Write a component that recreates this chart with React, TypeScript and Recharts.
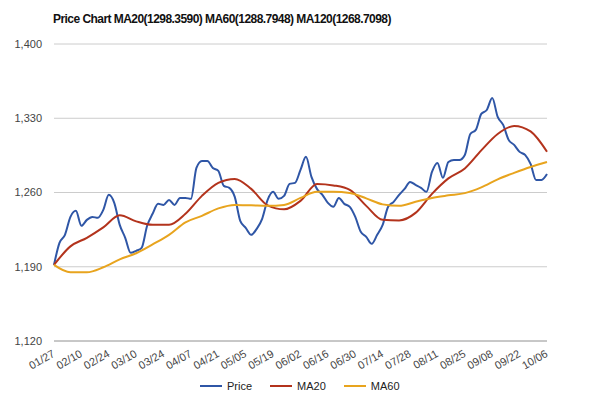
import { LineChart, Line, XAxis, YAxis, CartesianGrid } from "recharts";

const title = "Price Chart MA20(1298.3590) MA60(1288.7948) MA120(1268.7098)";

const dateLabels = [
  "01/27", "02/10", "02/24", "03/10", "03/24", "04/07", "04/21", "05/05", "05/19", "06/02",
  "06/16", "06/30", "07/14", "07/28", "08/11", "08/25", "09/08", "09/22", "10/06",
];

// closing price, one value every 2 trading days
const price = [
  1191.8, 1212.5, 1220.1, 1237.0, 1242.7, 1228.6, 1234.2, 1237.0, 1236.1, 1243.6,
  1257.8, 1250.2, 1229.5, 1217.3, 1203.1, 1205.0, 1207.8, 1228.6, 1239.9, 1249.3,
  1248.3, 1253.0, 1248.3, 1254.9, 1254.9, 1254.0, 1283.2, 1289.8, 1289.8, 1283.2,
  1280.4, 1266.2, 1264.4, 1255.9, 1233.3, 1226.7, 1220.1, 1225.7, 1235.2, 1253.0,
  1260.6, 1254.0, 1256.8, 1268.1, 1269.1, 1281.3, 1293.6, 1274.7, 1263.4, 1257.8,
  1250.2, 1246.5, 1254.9, 1249.3, 1246.5, 1237.0, 1222.9, 1218.2, 1211.6, 1220.1,
  1229.5, 1246.5, 1251.2, 1257.8, 1263.4, 1270.0, 1267.2, 1264.4, 1260.6, 1279.4,
  1287.9, 1273.8, 1288.8, 1290.7, 1290.7, 1295.4, 1315.2, 1319.0, 1334.1, 1337.8,
  1349.1, 1331.2, 1323.7, 1309.6, 1304.9, 1298.3, 1295.4, 1286.9, 1271.9, 1271.9,
  1277.5,
];

// moving averages, one value every 6 trading days
const ma20 = [
  1191.8, 1209.2, 1217.3, 1227.1, 1238.5, 1232.8, 1229.5, 1229.5, 1239.9, 1256.8,
  1269.1, 1272.8, 1263.4, 1247.9, 1244.1, 1252.1, 1268.1, 1266.7, 1262.5, 1247.4,
  1234.2, 1233.7, 1240.8, 1258.7, 1273.3, 1282.7, 1299.7, 1315.2, 1322.8, 1317.6,
  1298.4,
];

const ma60 = [
  1191.8, 1184.8, 1184.8, 1189.5, 1197.0, 1202.7, 1211.1, 1220.1, 1231.9, 1238.0,
  1245.0, 1248.3, 1247.9, 1247.4, 1248.3, 1254.9, 1260.6, 1260.6, 1259.6, 1254.5,
  1248.8, 1247.4, 1251.2, 1254.9, 1257.3, 1259.4, 1264.8, 1272.4, 1278.5, 1284.1,
  1288.8,
];

const yTicks = [1120, 1190, 1260, 1330, 1400];

const data = price.map((p, i) => ({
  i,
  price: p,
  ma20: i % 3 === 0 ? ma20[i / 3] : null,
  ma60: i % 3 === 0 ? ma60[i / 3] : null,
}));

const xTicks = dateLabels.map((_, k) => k * 5);

const colors = { price: "#2f56a6", ma20: "#b3331c", ma60: "#e8a41e" };
const font = "Arial, 'Liberation Sans', sans-serif";

function DateTick({ x, y, payload }: any) {
  return (
    <g transform={`translate(${x},${y + 4})`}>
      <text
        textAnchor="end"
        transform="rotate(-30)"
        fontSize={11}
        fontFamily={font}
        fill="#444"
        dy="0.3em"
      >
        {dateLabels[payload.value / 5]}
      </text>
    </g>
  );
}

const legendItems = [
  { name: "Price", color: colors.price },
  { name: "MA20", color: colors.ma20 },
  { name: "MA60", color: colors.ma60 },
];

export default function App() {
  return (
    <div style={{ position: "absolute", left: 0, top: 0, width: 600, height: 402, background: "#fff" }}>
      <div
        style={{
          position: "absolute",
          left: 53,
          top: 12,
          fontFamily: font,
          fontWeight: "bold",
          fontSize: 12,
          letterSpacing: -0.55,
          color: "#111",
          whiteSpace: "nowrap",
        }}
      >
        {title}
      </div>
      <LineChart width={600} height={402} data={data} margin={{ top: 44, right: 53, left: 0, bottom: 0 }}>
        <CartesianGrid vertical={false} stroke="#cccccc" />
        <XAxis
          dataKey="i"
          type="number"
          domain={[0, 90]}
          ticks={xTicks}
          interval={0}
          height={61}
          tickLine={false}
          axisLine={{ stroke: "#aaaaaa" }}
          tick={<DateTick />}
        />
        <YAxis
          domain={[1120, 1400]}
          ticks={yTicks}
          width={54}
          tickMargin={6}
          tickLine={false}
          axisLine={false}
          tickFormatter={(v: number) => v.toLocaleString("en-US")}
          tick={{ fontSize: 11, fontFamily: font, fill: "#444" }}
        />
        <Line dataKey="price" type="monotone" stroke={colors.price} strokeWidth={2} dot={false} isAnimationActive={false} />
        <Line dataKey="ma20" type="monotone" stroke={colors.ma20} strokeWidth={2} dot={false} connectNulls isAnimationActive={false} />
        <Line dataKey="ma60" type="monotone" stroke={colors.ma60} strokeWidth={2} dot={false} connectNulls isAnimationActive={false} />
      </LineChart>
      <div
        style={{
          position: "absolute",
          left: 200,
          top: 380,
          display: "flex",
          fontFamily: font,
          fontSize: 11,
          color: "#222",
        }}
      >
        {legendItems.map((it) => (
          <div key={it.name} style={{ display: "flex", alignItems: "center", marginRight: 18 }}>
            <span style={{ display: "inline-block", width: 22, height: 2, background: it.color, marginRight: 5 }} />
            <span>{it.name}</span>
          </div>
        ))}
      </div>
    </div>
  );
}
